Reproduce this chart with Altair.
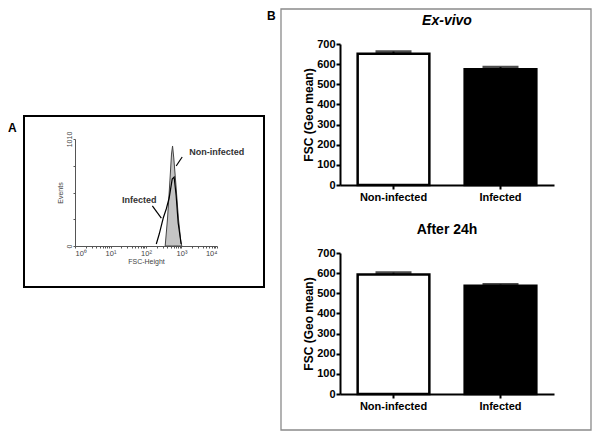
import altair as alt
import pandas as pd

FONT = "Liberation Sans"

# ---- Panel A: flow cytometry histogram ----
noninf_fsc = [347, 405, 471, 523, 560, 606, 694, 817, 955, 1020]
noninf_events = [0, 264, 614, 868, 944, 831, 585, 264, 47, 0]
inf_fsc = [195, 236, 306, 372, 449, 547, 620, 708, 806, 977]
inf_events = [19, 113, 264, 349, 453, 632, 651, 472, 217, 19]

hist_labels = ["Non-infected", "Infected"]
hist_label_fsc = [9800, 65]
hist_label_events = [887, 434]
ptr_group = ["n", "n", "i", "i"]
ptr_fsc = [1045, 708, 151, 270]
ptr_events = [840, 755, 378, 264]

x_ticks = [m * 10 ** e for e in range(4) for m in range(1, 10)] + [10000]
y_ticks = [0, 252.5, 505, 757.5, 1010]

# ---- Panel B: bar charts ----
groups = ["Non-infected", "Infected"]
exvivo_mean = [652, 575]
exvivo_err = [10, 10]
after24_mean = [593, 538]
after24_err = [9, 5]
bar_colors = ["white", "black"]
b_ticks = [0, 100, 200, 300, 400, 500, 600, 700]

A_W, A_H = 142, 202
xA = alt.Scale(type="log", domain=[1, 10000], range=[0, A_W])
yA = alt.Scale(domain=[0, 1010], range=[A_H, 95], nice=False, zero=False)

non_df = pd.DataFrame({"fsc": noninf_fsc, "ev": noninf_events})
inf_df = pd.DataFrame({"fsc": inf_fsc, "ev": inf_events})
lab_df = pd.DataFrame({"fsc": hist_label_fsc, "ev": hist_label_events, "t": hist_labels})
ptr_df = pd.DataFrame({"g": ptr_group, "fsc": ptr_fsc, "ev": ptr_events})
one = pd.DataFrame({"a": [0]})

sup = "datum.value==1?'10⁰':datum.value==10?'10¹':datum.value==100?'10²':datum.value==1000?'10³':datum.value==10000?'10⁴':''"

xAx = alt.Axis(values=x_ticks, labelExpr=sup, title="FSC-Height", tickSize=2,
               labelFontSize=7.5, titleFontSize=7, labelColor="#444", titleColor="#444",
               domainColor="#555", tickColor="#555", labelPadding=1, titlePadding=1,
               labelOverlap=False, grid=False, labelFont=FONT, titleFont=FONT,
               titleFontWeight="normal", labelFontWeight="normal", domainWidth=1, tickWidth=1)
yAx = alt.Axis(values=y_ticks, format="d",
               labelExpr="datum.value==0||datum.value==1010?datum.label:''",
               title="Events", tickSize=2, labelAngle=-90, labelFontSize=7, titleFontSize=7,
               labelColor="#444", titleColor="#444", domainColor="#555", tickColor="#555",
               labelPadding=1, titlePadding=2, labelOverlap=False, grid=False,
               labelFont=FONT, titleFont=FONT, titleFontWeight="normal",
               labelFontWeight="normal", domainWidth=1, tickWidth=1)

enc_x = alt.X("fsc:Q", scale=xA, axis=xAx, title="FSC-Height")
enc_y = alt.Y("ev:Q", scale=yA, axis=yAx, title="Events")

area = alt.Chart(non_df).mark_area(color="#c4c4c4", stroke="#444", strokeWidth=1, interpolate="linear").encode(
    x=enc_x, y=enc_y)
line = alt.Chart(inf_df).mark_line(color="black", strokeWidth=1.2).encode(x=enc_x, y=enc_y)
ptr = alt.Chart(ptr_df).mark_line(color="black", strokeWidth=1.2).encode(x=enc_x, y=enc_y, detail="g:N")
labs = alt.Chart(lab_df).mark_text(font=FONT, fontSize=9, fontWeight="bold", color="#333").encode(
    x=enc_x, y=enc_y, text="t:N")
boxA = alt.Chart(one).mark_rect(fill=None, stroke="black", strokeWidth=2).encode(
    x=alt.value(-51), x2=alt.value(189), y=alt.value(72), y2=alt.value(243))
letterA = alt.Chart(one).mark_text(text="A", font=FONT, fontSize=12, fontWeight="bold", align="left",
                                   baseline="middle").encode(x=alt.value(-67), y=alt.value(84))

panelA = alt.layer(boxA, letterA, area, line, ptr, labs).properties(width=A_W, height=A_H)


def bar_panel(title, means, errs, italic, extra=None):
    df = pd.DataFrame({"g": groups, "m": means, "top": [m + e for m, e in zip(means, errs)]})
    xs = alt.Scale(domain=groups, paddingInner=0, paddingOuter=0)
    ys = alt.Scale(domain=[0, 700], nice=False)
    xax = alt.Axis(title=None, labelAngle=0, labelFont=FONT, labelFontSize=11, labelFontWeight="bold",
                   labelColor="black", domainColor="black", tickColor="black", domainWidth=2, tickWidth=2,
                   tickSize=4, labelPadding=2)
    yax = alt.Axis(values=b_ticks, title="FSC (Geo mean)", labelFont=FONT, labelFontSize=11, labelFontWeight="bold",
                   labelColor="black", titleFont=FONT, titleFontSize=12, titleFontWeight="bold", titleColor="black",
                   domainColor="black", tickColor="black", domainWidth=2, tickWidth=2, tickSize=4, labelPadding=1,
                   titleX=-32, titleBaseline="middle", labelOverlap=False, grid=False)
    ex = alt.X("g:N", scale=xs, axis=xax, sort=groups, title=None)
    base = alt.Chart(df)
    bars = base.mark_bar(width={"band": 0.67}, stroke="black", strokeWidth=2.5).encode(
        x=ex,
        y=alt.Y("m:Q", scale=ys, axis=yax, title="FSC (Geo mean)"),
        fill=alt.Fill("g:N", scale=alt.Scale(domain=groups, range=bar_colors), legend=None),
    )
    err = base.mark_rule(color="black", strokeWidth=2).encode(
        x=ex, y=alt.Y("m:Q", scale=ys, axis=yax, title="FSC (Geo mean)"), y2="top:Q")
    cap = base.mark_tick(color="black", size=36, thickness=3).encode(
        x=ex, y=alt.Y("top:Q", scale=ys, axis=yax, title="FSC (Geo mean)"))
    ttl = alt.Chart(one).mark_text(text=title, font=FONT, fontSize=14, fontWeight="bold",
                                   fontStyle="italic" if italic else "normal", baseline="middle").encode(
        x=alt.value(107), y=alt.value(-23))
    layers = [bars, err, cap, ttl]
    if extra:
        layers = extra + layers
    return alt.layer(*layers).properties(width=214, height=141)


boxB = alt.Chart(one).mark_rect(fill=None, stroke="#8a8a8a", strokeWidth=1.3).encode(
    x=alt.value(-59), x2=alt.value(251), y=alt.value(-35), y2=alt.value(386))
letterB = alt.Chart(one).mark_text(text="B", font=FONT, fontSize=12, fontWeight="bold", align="left",
                                   baseline="middle").encode(x=alt.value(-73), y=alt.value(-28))

b1 = bar_panel("Ex-vivo", exvivo_mean, exvivo_err, True, extra=[boxB, letterB])
b2 = bar_panel("After 24h", after24_mean, after24_err, False)

panelB = alt.vconcat(b1, b2, spacing=68, bounds="flush")

chart = alt.hconcat(panelA, panelB, spacing=123, bounds="flush").properties(
    padding={"left": 0, "top": 0, "right": 0, "bottom": 0}
).configure(font=FONT).configure_view(strokeWidth=0, stroke="transparent")

chart.save("out.html", embed_options={"renderer": "svg", "actions": False})
